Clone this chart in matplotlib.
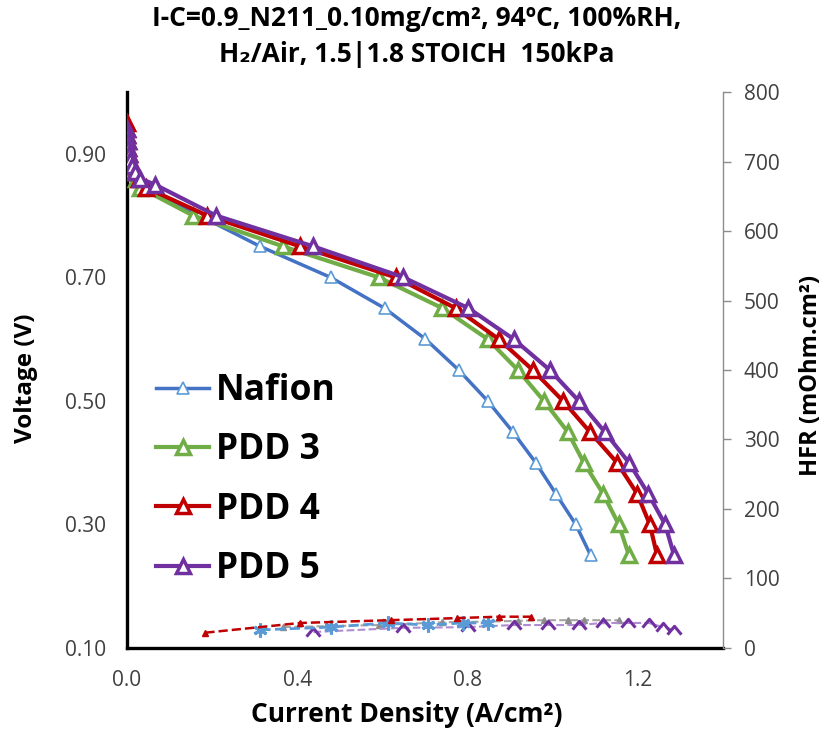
import matplotlib.pyplot as plt
from matplotlib.path import Path

plt.rcParams['font.family'] = ['Open Sans', 'DejaVu Sans']

# polarization curves: current density (A/cm2) vs voltage (V)
naf_i = [0.0, 0.001, 0.002, 0.004, 0.006, 0.009, 0.013, 0.02, 0.035, 0.17, 0.313, 0.478,
         0.605, 0.701, 0.779, 0.847, 0.906, 0.960, 1.007, 1.054, 1.089]
naf_v = [0.93, 0.92, 0.91, 0.90, 0.89, 0.88, 0.87, 0.86, 0.85, 0.80, 0.75, 0.70,
         0.65, 0.60, 0.55, 0.50, 0.45, 0.40, 0.35, 0.30, 0.25]

p3_i = [0.0, 0.001, 0.003, 0.005, 0.008, 0.012, 0.02, 0.031, 0.155, 0.367, 0.591,
        0.741, 0.847, 0.918, 0.979, 1.035, 1.073, 1.118, 1.155, 1.179]
p3_v = [0.92, 0.91, 0.90, 0.89, 0.88, 0.87, 0.86, 0.845, 0.80, 0.75, 0.70,
        0.65, 0.60, 0.55, 0.50, 0.45, 0.40, 0.35, 0.30, 0.25]

p4_i = [0.0, 0.0, 0.001, 0.002, 0.003, 0.005, 0.008, 0.012, 0.018, 0.027, 0.045, 0.188,
        0.407, 0.631, 0.772, 0.873, 0.953, 1.024, 1.087, 1.151, 1.198, 1.228, 1.245]
p4_v = [0.95, 0.94, 0.93, 0.92, 0.91, 0.90, 0.89, 0.88, 0.87, 0.86, 0.845, 0.80,
        0.75, 0.70, 0.65, 0.60, 0.55, 0.50, 0.45, 0.40, 0.35, 0.30, 0.25]

p5_i = [0.0, 0.001, 0.002, 0.003, 0.005, 0.008, 0.012, 0.018, 0.03, 0.066, 0.209,
        0.438, 0.649, 0.802, 0.908, 0.993, 1.061, 1.122, 1.179, 1.224, 1.264, 1.285]
p5_v = [0.94, 0.93, 0.92, 0.91, 0.90, 0.89, 0.88, 0.87, 0.86, 0.85, 0.80,
        0.75, 0.70, 0.65, 0.60, 0.55, 0.50, 0.45, 0.40, 0.35, 0.30, 0.25]

# HFR (mOhm.cm2)
naf_hfr_i = [0.313, 0.478, 0.612, 0.706, 0.788, 0.849]
naf_hfr = [26, 30, 36, 33, 36, 36]
p3_hfr_i = [0.367, 0.591, 0.741, 0.847, 0.918, 0.979, 1.035, 1.073, 1.118, 1.155]
p3_hfr = [30, 33, 37, 38, 39, 40, 40, 40, 40, 40]
p4_hfr_i = [0.184, 0.407, 0.619, 0.776, 0.873, 0.948]
p4_hfr = [22, 36, 40, 43, 45, 45]
p5_hfr_i = [0.438, 0.649, 0.80, 0.908, 0.988, 1.061, 1.118, 1.176, 1.226, 1.259, 1.285]
p5_hfr = [23, 29, 30, 33, 33, 33, 36, 36, 36, 30, 26]

caret = Path([(-1, -0.6), (0, 0.6), (1, -0.6)], [Path.MOVETO, Path.LINETO, Path.LINETO])

fig = plt.figure(figsize=(8.33, 7.35), dpi=100)
ax = fig.add_axes([0.1525, 0.1184, 0.7155, 0.7564])
ax2 = ax.twinx()

ax.plot(naf_i, naf_v, color='#4472C4', lw=2.5, marker='^', ms=8, mfc='white',
        mec='#5B9BD5', mew=1.2, label='Nafion', zorder=3)
ax.plot(p3_i, p3_v, color='#70AD47', lw=3, marker='^', ms=10, mfc='white',
        mec='#70AD47', mew=2.5, label='PDD 3', zorder=3)
ax.plot(p4_i, p4_v, color='#C00000', lw=3, marker='^', ms=10, mfc='white',
        mec='#C00000', mew=2.5, label='PDD 4', zorder=3)
ax.plot(p5_i, p5_v, color='#7030A0', lw=3, marker='^', ms=10, mfc='white',
        mec='#7030A0', mew=2.5, label='PDD 5', zorder=3)

ax2.plot(p3_hfr_i, p3_hfr, color='#A5A5A5', lw=1.5, ls='--', marker='^', ms=5,
         mfc='#8C8C8C', mec='#8C8C8C')
ax2.plot(p5_hfr_i, p5_hfr, color='#B08CD0', lw=1.5, ls='--', marker=caret, ms=10,
         mfc='none', mec='#7030A0', mew=2.2)
ax2.plot(naf_hfr_i, naf_hfr, color='#5B9BD5', lw=2, ls='--', marker=(6, 2, 0), ms=10,
         mec='#5B9BD5', mew=2.2)
ax2.plot(p4_hfr_i, p4_hfr, color='#C00000', lw=1.8, ls='--', marker='^', ms=5,
         mfc='#C00000', mec='#C00000')

ax.set_xlim(0, 1.4)
ax.set_ylim(0.1, 1.0)
ax.set_xticks([0.0, 0.4, 0.8, 1.2])
ax.set_xticklabels(['0.0', '0.4', '0.8', '1.2'])
ax.set_yticks([0.1, 0.3, 0.5, 0.7, 0.9])
ax.set_yticklabels(['0.10', '0.30', '0.50', '0.70', '0.90'])
ax2.set_ylim(0, 800)
ax2.set_yticks(range(0, 801, 100))

for a in (ax, ax2):
    a.spines['top'].set_visible(False)
ax.spines['right'].set_visible(False)
ax2.spines['left'].set_visible(False)
ax2.spines['bottom'].set_visible(False)
ax.spines['left'].set_linewidth(2.4)
ax.spines['bottom'].set_linewidth(2.4)
ax2.spines['right'].set_color('#8C8C8C')
ax2.spines['right'].set_linewidth(1)

ax.tick_params(axis='y', length=0, labelsize=15, colors='#404040', pad=15)
ax.tick_params(axis='x', length=0, labelsize=15, colors='#404040', pad=16)
ax2.tick_params(axis='y', length=6, width=1, color='#8C8C8C', labelsize=15,
                labelcolor='#404040', pad=9)

ax.set_xlabel('Current Density (A/cm²)', fontsize=19, fontweight='bold')
ax.xaxis.set_label_coords(0.47, -0.095)
ax.set_ylabel('Voltage (V)', fontsize=17.5, fontweight='bold')
ax.yaxis.set_label_coords(-0.15, 0.485)
ax2.set_ylabel('HFR (mOhm.cm²)', fontsize=17, fontweight='bold')
ax2.yaxis.set_label_coords(1.128, 0.49)

fig.text(0.5, 0.993, 'I-C=0.9_N211_0.10mg/cm², 94ºC, 100%RH,\nH₂/Air, 1.5|1.8 STOICH  150kPa',
         ha='center', va='top', fontsize=19, fontweight='bold', linespacing=1.4)

ax.legend(loc='center left', bbox_to_anchor=(0.025, 0.302), frameon=False,
          prop={'size': 25.5, 'weight': 'bold'}, handlelength=1.5, handletextpad=0.2,
          labelspacing=0.66, borderaxespad=0)

fig.savefig('out.png', dpi=100)
